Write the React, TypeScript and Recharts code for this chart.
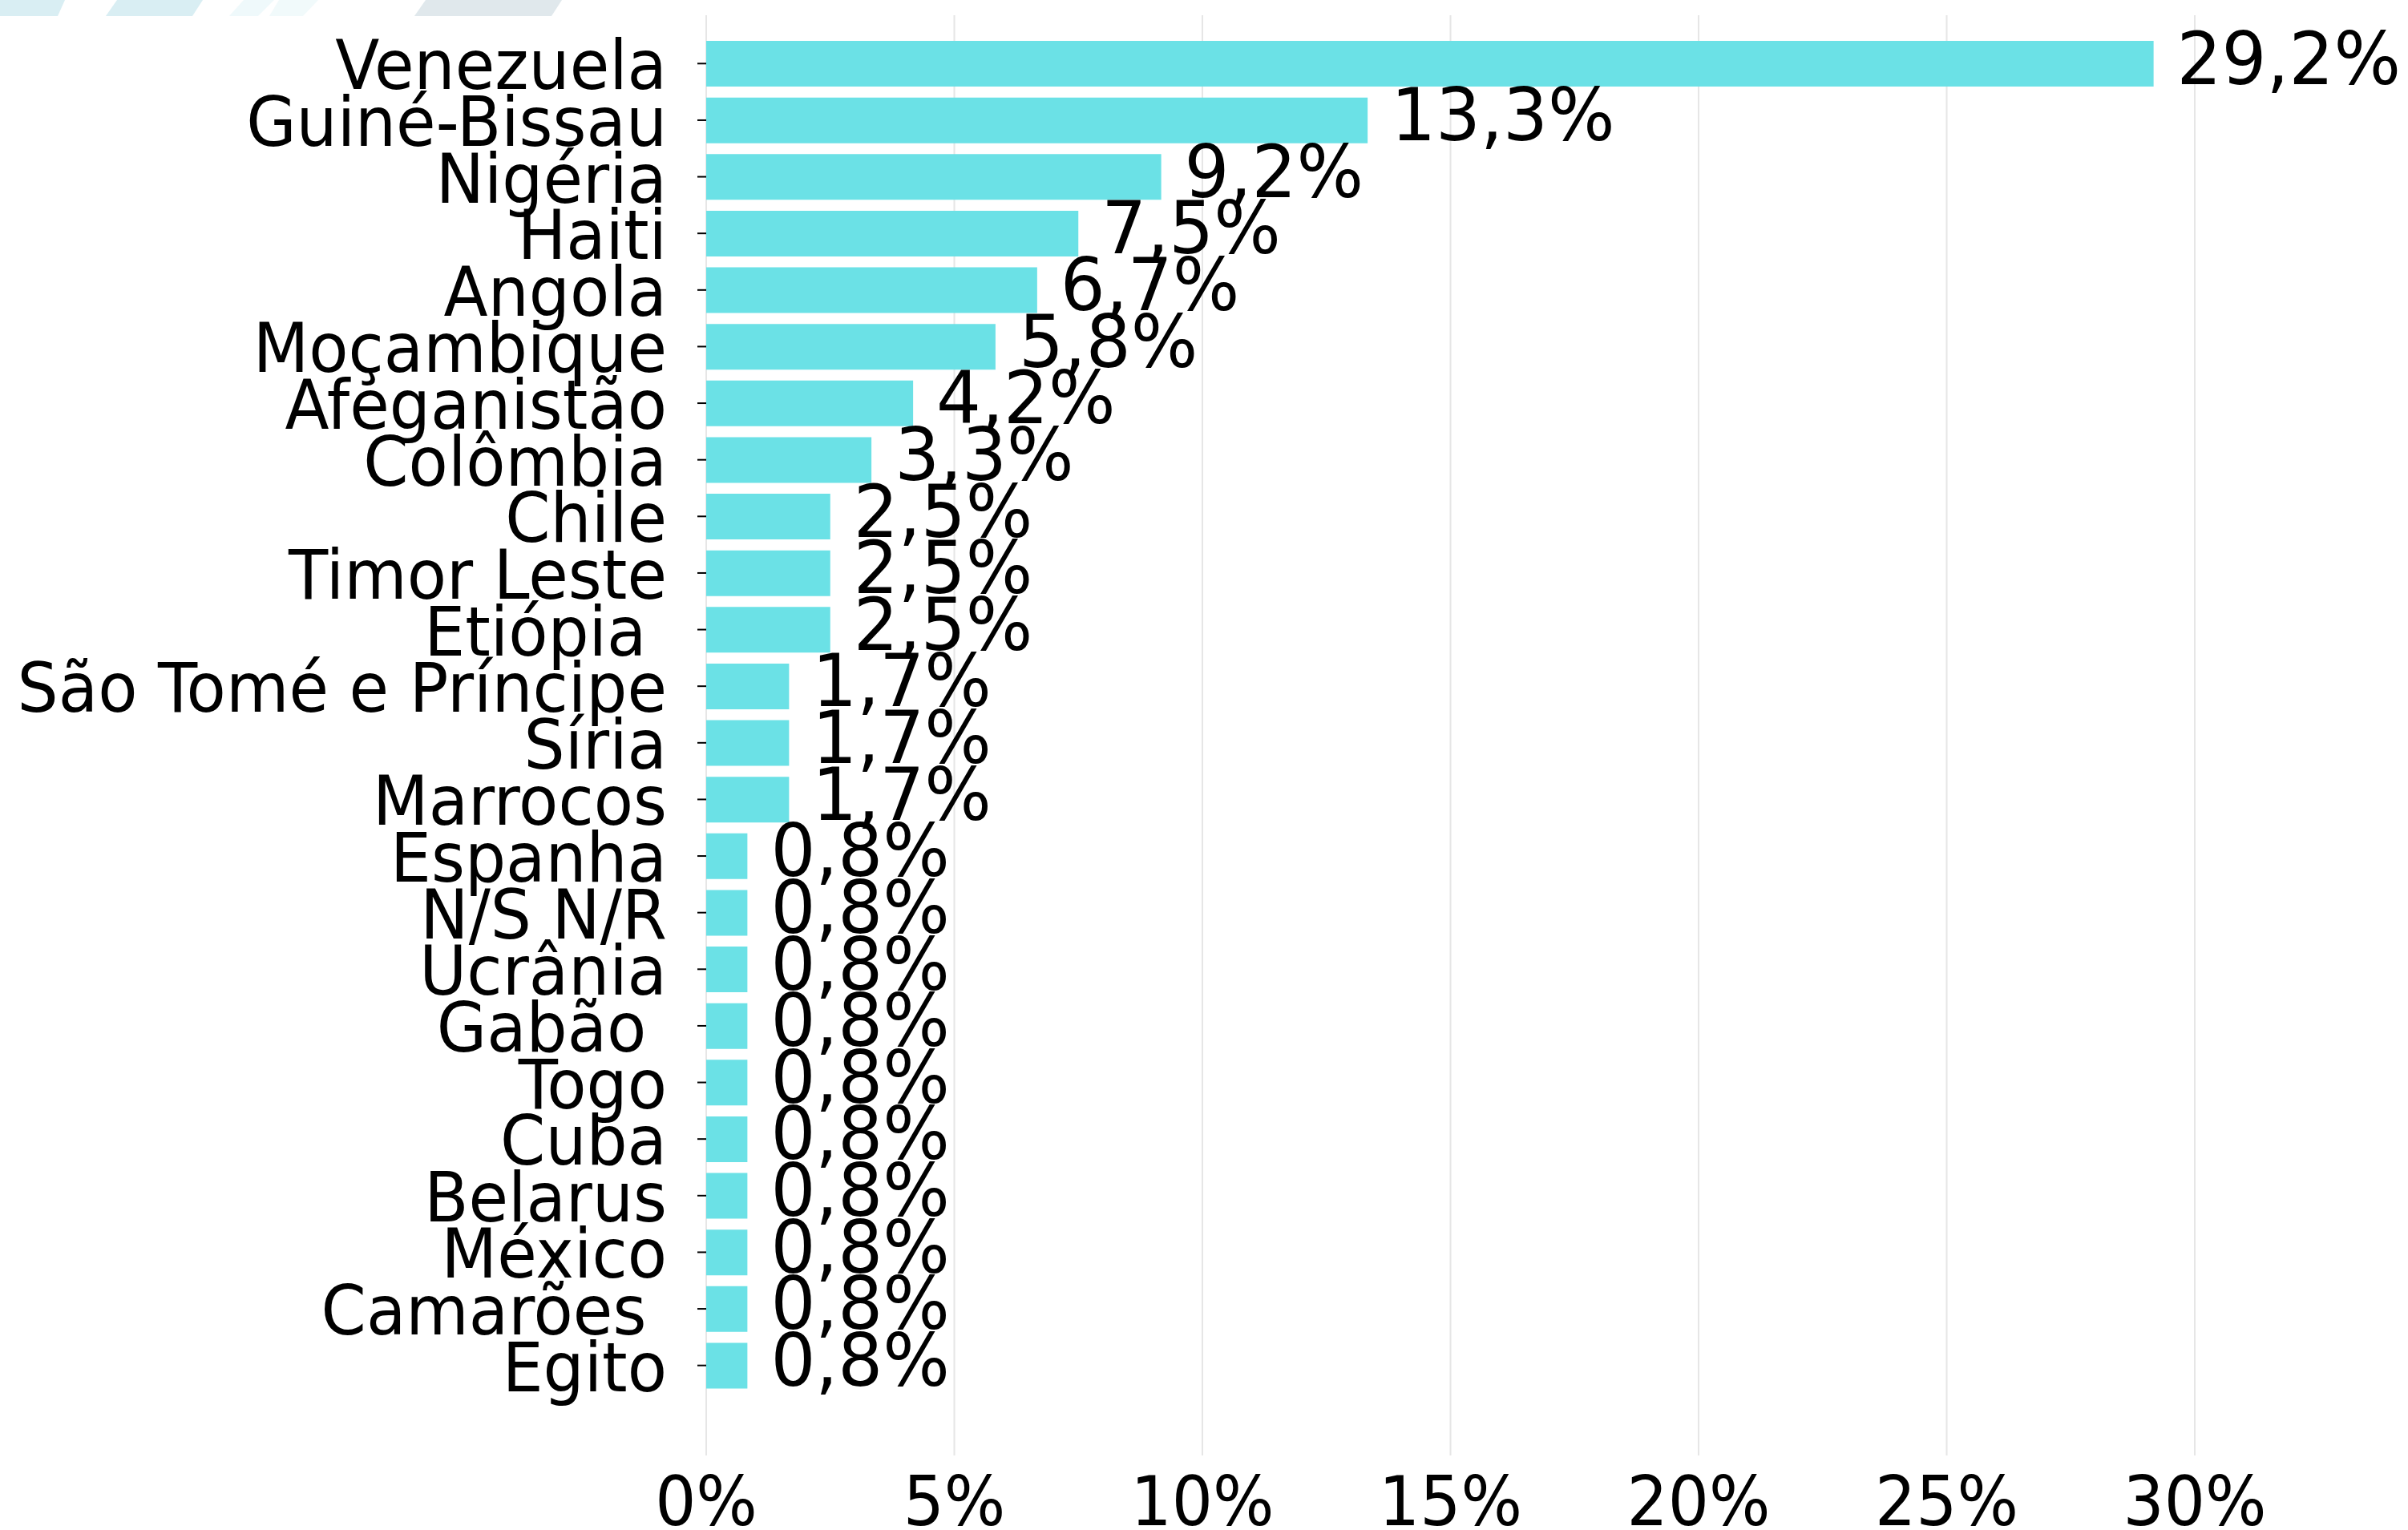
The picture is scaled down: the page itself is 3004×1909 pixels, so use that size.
import React from 'react';
import { BarChart, Bar, XAxis, YAxis, CartesianGrid, LabelList } from 'recharts';

const countries = [
  'Venezuela',
  'Guiné-Bissau',
  'Nigéria',
  'Haiti',
  'Angola',
  'Moçambique',
  'Afeganistão',
  'Colômbia',
  'Chile',
  'Timor Leste',
  'Etiópia ',
  'São Tomé e Príncipe',
  'Síria',
  'Marrocos',
  'Espanha',
  'N/S N/R',
  'Ucrânia',
  'Gabão ',
  'Togo',
  'Cuba',
  'Belarus',
  'México',
  'Camarões ',
  'Egito',
];

const shares = [
  29.17, 13.33, 9.17, 7.5, 6.67, 5.83, 4.17, 3.33, 2.5, 2.5, 2.5, 1.67, 1.67, 1.67,
  0.83, 0.83, 0.83, 0.83, 0.83, 0.83, 0.83, 0.83, 0.83, 0.83,
];

const xTicks = [0, 5, 10, 15, 20, 25, 30];
const xTickLabels = ['0%', '5%', '10%', '15%', '20%', '25%', '30%'];

const data = countries.map((country, i) => ({ country, share: shares[i] }));

const FONT = '"DejaVu Sans", Verdana, sans-serif';
const BAR_COLOR = '#6be1e6';

const fmt = (v: number) => v.toFixed(1).replace('.', ',') + '%';

const CategoryTick = (props: any) => {
  const { x, y, payload } = props;
  return (
    <g transform={`translate(${x},${y + 32})`}>
      <text
        transform="scale(1,1.067)"
        textAnchor="end"
        fontFamily={FONT}
        fontSize={80.6}
        fill="#000"
        style={{ whiteSpace: 'pre' }}
      >
        {payload.value}
      </text>
    </g>
  );
};

const XTick = (props: any) => {
  const { x, y, payload } = props;
  const idx = xTicks.indexOf(payload.value);
  const label = idx >= 0 ? xTickLabels[idx] : String(payload.value);
  return (
    <g transform={`translate(${x},${y + 87})`}>
      <text transform="scale(1,1.06)" textAnchor="middle" fontFamily={FONT} fontSize={80.5} fill="#000">
        {label}
      </text>
    </g>
  );
};

const ValueLabel = (props: any) => {
  const { x, y, width, height, value } = props;
  return (
    <g transform={`translate(${x + width + 29},${y + height / 2 + 25})`}>
      <text transform="scale(1,1.025)" textAnchor="start" fontFamily={FONT} fontSize={88} fill="#000">
        {fmt(Number(value))}
      </text>
    </g>
  );
};

const Decoration = () => (
  <svg width={3004} height={24} style={{ position: 'absolute', left: 0, top: 0 }}>
    <polygon points="0,0 81,0 72,20 0,20" fill="#d9eef3" />
    <polygon points="146,0 253,0 240,20 132,20" fill="#d9eef3" />
    <polygon points="304,0 342,0 322,20 286,20" fill="#eff9fb" />
    <polygon points="348,0 397,0 378,20 336,20" fill="#f1fafb" />
    <polygon points="531,0 701,0 688,20 517,20" fill="#e0e8ec" />
  </svg>
);

export default function App() {
  return (
    <div style={{ position: 'absolute', left: 0, top: 0, width: 3004, height: 1909, background: '#fff' }}>
      <Decoration />
      <div style={{ position: 'absolute', left: 0, top: 0 }}>
        <BarChart
          width={3004}
          height={1909}
          data={data}
          layout="vertical"
          margin={{ top: 19, right: 266, bottom: 0, left: 0 }}
          barCategoryGap="10%"
          style={{ overflow: 'visible' }}
        >
          <CartesianGrid horizontal={false} stroke="#e6e6e6" strokeWidth={2} />
          <XAxis
            type="number"
            domain={[0, 30]}
            ticks={xTicks}
            axisLine={false}
            tickLine={false}
            tickSize={0}
            tickMargin={0}
            height={93}
            interval={0}
            tick={<XTick />}
          />
          <YAxis
            type="category"
            dataKey="country"
            width={881}
            axisLine={false}
            tickLine={{ stroke: '#000', strokeWidth: 2 }}
            tickSize={11}
            tickMargin={38}
            interval={0}
            padding={{ top: 25, bottom: 77 }}
            tick={<CategoryTick />}
          />
          <Bar dataKey="share" fill={BAR_COLOR} isAnimationActive={false}>
            <LabelList dataKey="share" content={<ValueLabel />} />
          </Bar>
        </BarChart>
      </div>
    </div>
  );
}
